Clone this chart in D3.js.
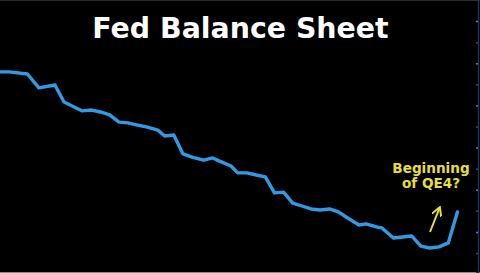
<!DOCTYPE html>
<html>
<head>
<meta charset="utf-8">
<script src="https://cdn.jsdelivr.net/npm/d3@7"></script>
<style>
  html, body { margin: 0; padding: 0; background: #000; }
  svg { display: block; }
</style>
</head>
<body>
<div id="chart"></div>
<script>
// weeks since start of window, and Fed total assets ($bn)
const weeks = [0, 4, 12, 17, 24, 28, 36, 40, 44, 48, 52, 56, 60, 64, 69, 72, 76,
  80, 84, 89, 93, 96, 101, 104, 108, 112, 116, 120, 124, 128, 132, 136, 140,
  144, 148, 152, 157, 160, 165, 167, 172, 176, 180, 184, 188, 192, 196, 200];
const assets = [4559, 4559, 4549, 4483, 4497, 4416, 4374, 4378, 4369, 4355, 4321,
  4317, 4307, 4298, 4283, 4255, 4260, 4170, 4155, 4141, 4151, 4136, 4113, 4080,
  4080, 4070, 4061, 3985, 3989, 3937, 3923, 3909, 3904, 3909, 3895, 3866, 3833,
  3838, 3823, 3819, 3771, 3776, 3781, 3733, 3724, 3729, 3748, 3895];
const yTicks = d3.range(3700, 4801, 100);

const title = 'Fed Balance Sheet';
const note = ['Beginning', 'of QE4?'];

const width = 480, height = 273;

const svg = d3.select('#chart').append('svg')
  .attr('width', width)
  .attr('height', height);

svg.append('rect').attr('width', width).attr('height', height).attr('fill', '#000');

var x = d3.scaleLinear().domain([0, 209]).range([0, 478]);
var y = d3.scaleLinear().domain([3610, 4900]).range([272, 0]);

// frame lines
svg.append('line')
  .attr('x1', 0).attr('x2', width).attr('y1', 272.5).attr('y2', 272.5)
  .attr('stroke', '#8a8a8a').attr('stroke-width', 1);
svg.append('line')
  .attr('x1', 0).attr('x2', width).attr('y1', 0.5).attr('y2', 0.5)
  .attr('stroke', '#2a2a2a').attr('stroke-width', 1);

// right axis
var axis = svg.append('g')
  .attr('transform', 'translate(478,0)')
  .call(d3.axisRight(y).tickValues(yTicks).tickSize(-2).tickFormat(''));
axis.select('.domain').attr('stroke', '#1d3352').attr('stroke-width', 1.5);
axis.selectAll('.tick line')
  .attr('stroke', (d, i) => i % 2 == 0 ? '#2a4f7a' : '#3d86d6')
  .attr('stroke-width', 1.5);

// series
var line = d3.line()
  .x((d, i) => x(weeks[i]))
  .y(d => y(d));

svg.append('path')
  .datum(assets)
  .attr('d', line)
  .attr('fill', 'none')
  .attr('stroke', '#2f9ae6')
  .attr('stroke-width', 3.4)
  .attr('stroke-linejoin', 'round')
  .attr('stroke-linecap', 'round');

// title
svg.append('text')
  .attr('x', 240.5).attr('y', 38)
  .attr('text-anchor', 'middle')
  .attr('font-family', 'DejaVu Sans')
  .attr('font-weight', 'bold')
  .attr('font-size', 28.4)
  .attr('fill', '#fff')
  .text(title);

// annotation
svg.append('g').selectAll('text')
  .data(note)
  .enter()
  .append('text')
  .attr('x', 431)
  .attr('y', (d, i) => 173 + 15 * i)
  .attr('text-anchor', 'middle')
  .attr('font-family', 'DejaVu Sans')
  .attr('font-weight', 'bold')
  .attr('font-size', 13.6)
  .attr('fill', '#e6df3c')
  .text(d => d);

svg.append('defs').append('marker')
  .attr('id', 'head')
  .attr('viewBox', '0 0 10 10')
  .attr('refX', 8).attr('refY', 5)
  .attr('markerWidth', 5).attr('markerHeight', 5)
  .attr('orient', 'auto')
  .append('path')
  .attr('d', 'M0,0 L9,5 L0,10')
  .attr('fill', 'none')
  .attr('stroke', '#e6df3c')
  .attr('stroke-width', 2);

svg.append('line')
  .attr('x1', 430).attr('y1', 232)
  .attr('x2', 439.5).attr('y2', 208)
  .attr('stroke', '#e6df3c')
  .attr('stroke-width', 2)
  .attr('marker-end', 'url(#head)');
</script>
</body>
</html>
